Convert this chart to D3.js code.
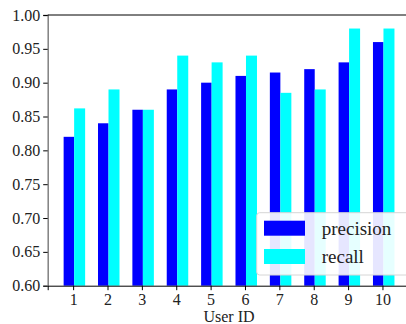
<!DOCTYPE html>
<html>
<head>
<meta charset="utf-8">
<script src="https://cdn.jsdelivr.net/npm/d3@7"></script>
<style>
  body { margin: 0; background: #fff; }
  svg text { font-family: "Liberation Serif", "DejaVu Serif", serif; fill: #222; }
</style>
</head>
<body>
<div id="chart"></div>
<script>
var users = [1, 2, 3, 4, 5, 6, 7, 8, 9, 10];
var precision = [0.82, 0.84, 0.86, 0.89, 0.90, 0.91, 0.915, 0.92, 0.93, 0.96];
var recall = [0.862, 0.89, 0.86, 0.94, 0.93, 0.94, 0.885, 0.89, 0.98, 0.98];
var yTicks = [0.60, 0.65, 0.70, 0.75, 0.80, 0.85, 0.90, 0.95, 1.00];
var seriesNames = ["precision", "recall"];
var colors = ["#0000ff", "#00ffff"];

var width = 406, height = 324;
var plotLeft = 47.7, plotTop = 15, plotBottom = 285.7;

var svg = d3.select("#chart").append("svg")
    .attr("width", width)
    .attr("height", height);

var x = d3.scaleLinear().domain([0.26, 10.76]).range([plotLeft, plotLeft + 10.5 * 34.37]);
var y = d3.scaleLinear().domain([0.6, 1.0]).range([plotBottom, plotTop]);

// bars
var series = [precision, recall];
var offsets = [[-9.5, 1], [1, 12]];
series.forEach(function (vals, s) {
    svg.selectAll(".bar" + s)
        .data(vals)
        .enter()
        .append("rect")
        .attr("class", "bar" + s)
        .attr("x", function (d, i) { return x(users[i]) + offsets[s][0]; })
        .attr("width", offsets[s][1] - offsets[s][0])
        .attr("y", function (d) { return y(d); })
        .attr("height", function (d) { return plotBottom - y(d); })
        .attr("fill", colors[s]);
});

// axes
var yAxis = d3.axisLeft(y).tickValues(yTicks).tickFormat(d3.format(".2f")).tickSize(4.5).tickPadding(3);
var gy = svg.append("g").attr("transform", "translate(" + plotLeft + ",0)").call(yAxis);
gy.select(".domain").attr("stroke", "#808080").attr("stroke-width", 1.5);
gy.selectAll(".tick line").attr("stroke", "#000");
gy.selectAll("text").style("font-size", "16px").attr("fill", "#222");

var xAxis = d3.axisBottom(x).tickValues(users).tickFormat(d3.format("d")).tickSize(4.5).tickPadding(3);
var gx = svg.append("g").attr("transform", "translate(0," + plotBottom + ")").call(xAxis);
gx.select(".domain").attr("stroke", "#000").attr("stroke-width", 1);
gx.selectAll("text").style("font-size", "16px").attr("fill", "#222");

// top spine
svg.append("line")
    .attr("x1", plotLeft).attr("x2", width)
    .attr("y1", plotTop).attr("y2", plotTop)
    .attr("stroke", "#000").attr("stroke-width", 1);

svg.append("text")
    .attr("x", 229)
    .attr("y", 322)
    .attr("text-anchor", "middle")
    .style("font-size", "16px")
    .text("User ID");

// legend
var legend = svg.append("g");
legend.append("rect")
    .attr("x", 256.7).attr("y", 212.7)
    .attr("width", 160).attr("height", 62.3)
    .attr("rx", 3)
    .attr("fill", "#fff").attr("fill-opacity", 0.9)
    .attr("stroke", "#d6d6d6").attr("stroke-width", 1);
seriesNames.forEach(function (name, i) {
    legend.append("rect")
        .attr("x", 264).attr("y", 220.7 + i * 28.3)
        .attr("width", 41).attr("height", 15)
        .attr("fill", colors[i]);
    legend.append("text")
        .attr("x", 321.7).attr("y", 234.5 + i * 28.3)
        .style("font-size", "19px")
        .text(name);
});
</script>
</body>
</html>
